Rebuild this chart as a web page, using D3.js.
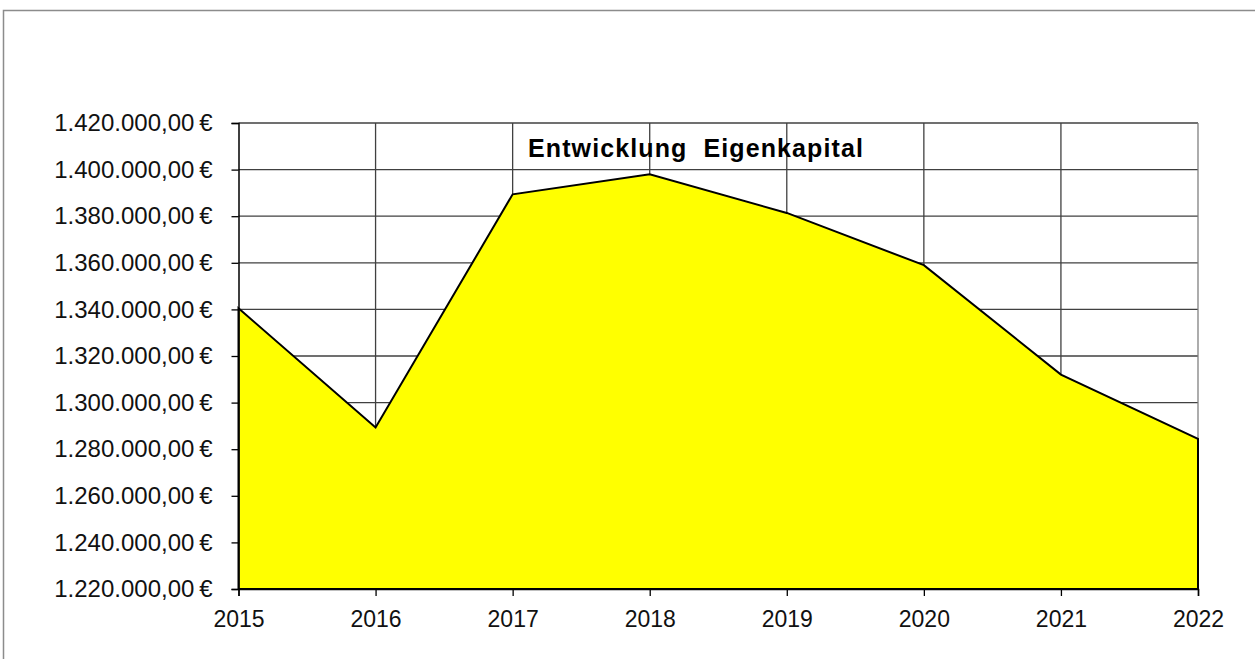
<!DOCTYPE html>
<html><head><meta charset="utf-8">
<script src="https://cdn.jsdelivr.net/npm/d3@7"></script>
<style>body{margin:0;background:#fff}svg{display:block}</style>
</head><body>
<svg id="c" width="1255" height="659"></svg>
<script>
const years = ["2015","2016","2017","2018","2019","2020","2021","2022"];
const values = [1340500, 1289300, 1389400, 1398000, 1381400, 1359000, 1312000, 1284400];
const yTicks = [1220000,1240000,1260000,1280000,1300000,1320000,1340000,1360000,1380000,1400000,1420000];
const title = "Entwicklung\u00A0\u00A0Eigenkapital";

const svg = d3.select("#c");
const m = {l:238.5, r:1198, t:123, b:589};
svg.append("rect").attr("x",3.5).attr("y",10.5).attr("width",1260).attr("height",660)
  .attr("fill","none").attr("stroke","#8c8c8c").attr("stroke-width",1.5);

const x = d3.scalePoint().domain(years).range([m.l,m.r]);
const y = d3.scaleLinear().domain([1220000,1420000]).range([m.b,m.t]);
const fmt = v => d3.format(",.2f")(v).replace(/,/g,"X").replace(/\./g,",").replace(/X/g,".") + "\u202F€";

// grid
const g = svg.append("g");
g.selectAll(".hy").data(yTicks).join("line")
  .attr("x1",m.l).attr("x2",m.r).attr("y1",d=>y(d)).attr("y2",d=>y(d))
  .attr("stroke","#404040").attr("stroke-width",1.3);
g.selectAll(".vx").data(years.slice(1)).join("line")
  .attr("x1",d=>x(d)).attr("x2",d=>x(d)).attr("y1",m.t).attr("y2",m.b)
  .attr("stroke",(d,i)=> i===years.length-2 ? "#808080" : "#404040").attr("stroke-width",1.3);

// area
const data = years.map((d,i)=>({year:d,v:values[i]}));
const area = d3.area().x(d=>x(d.year)).y0(y(1220000)).y1(d=>y(d.v));
svg.append("path").datum(data).attr("d",area).attr("fill","#ffff00")
  .attr("stroke","#000").attr("stroke-width",2).attr("stroke-linejoin","miter");

// axes
const ya = svg.append("g").attr("transform",`translate(${m.l},0)`)
  .call(d3.axisLeft(y).tickValues(yTicks).tickFormat(fmt).tickSize(7).tickPadding(19));
ya.select(".domain").attr("stroke","#000").attr("stroke-width",1.5);
ya.selectAll(".tick line").attr("stroke","#000").attr("stroke-width",1.3);
ya.selectAll("text").attr("font-family","Liberation Sans, Arial, sans-serif").attr("font-size",24).attr("fill","#111");

const xa = svg.append("g").attr("transform",`translate(0,${m.b})`)
  .call(d3.axisBottom(x).tickSize(7).tickPadding(15));
xa.select(".domain").attr("stroke","#000").attr("stroke-width",1.5);
xa.selectAll(".tick line").attr("stroke","#000").attr("stroke-width",1.3);
xa.selectAll("text").attr("font-family","Liberation Sans, Arial, sans-serif").attr("font-size",23).attr("fill","#111");

svg.append("text").attr("x",696).attr("y",157).attr("text-anchor","middle")
  .attr("font-family","Liberation Sans, Arial, sans-serif").attr("font-weight","bold")
  .attr("font-size",25).attr("letter-spacing",1.1).attr("fill","#000").text(title);
</script>
</body></html>
